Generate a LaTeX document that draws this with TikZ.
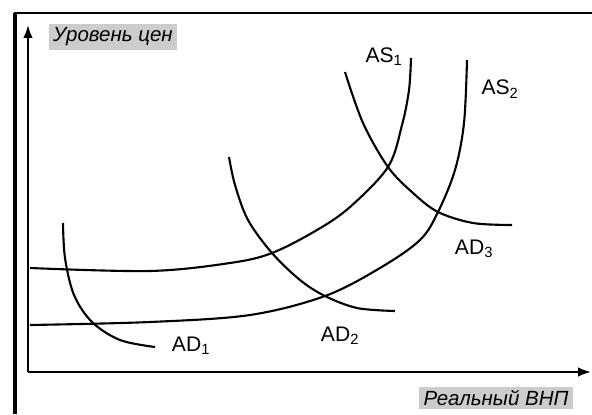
\documentclass[tikz,border=0pt]{standalone}
\usepackage{fontspec}
\setmainfont{Liberation Sans}
\usetikzlibrary{arrows.meta}

\begin{document}
\begin{tikzpicture}[x=0.03cm, y=-0.03cm,
  curve/.style={line width=1.8pt, smooth, tension=0.55},
  axis/.style={line width=1.6pt, -{Latex[length=11pt,width=8pt]}},
  lbl/.style={font=\fontsize{18}{20}\selectfont, inner sep=0pt},
  axlbl/.style={fill=gray!40, font=\fontsize{17.5}{20}\selectfont\itshape, inner xsep=4pt, inner ysep=3pt}
]
\useasboundingbox (0,0) rectangle (592,414);
\draw[line width=4pt] (15,414) -- (15,13);
\draw[line width=2.2pt] (14,13) -- (592,13);

\coordinate (o) at (28,372);
\coordinate (ytop) at (28,25);
\coordinate (xend) at (591,372);
\draw[axis] (o) -- (ytop);
\draw[axis] (o) -- (xend);

\draw[curve] plot coordinates {(30,268) (150,271) (230,263) (272,253) (317,230) (350,207) (388,167) (402,125) (409,90) (411,58)};
\draw[curve] plot coordinates {(30,325) (150,322) (250,315) (325,296) (380,268) (420,240) (438,212) (455,170) (464,123) (467,60)};
\draw[curve] plot coordinates {(63,223) (65,258) (74,295) (92,322) (120,340) (155,347)};
\draw[curve] plot coordinates {(229,157) (235,185) (248,220) (272,253) (300,280) (325,296) (357,308) (395,311)};
\draw[curve] plot coordinates {(345,72) (363,123) (388,167) (413,193) (438,212) (473,223) (512,225)};

\node[lbl] (as1) at (384,57) {AS\textsubscript{1}};
\node[lbl] (as2) at (500,89) {AS\textsubscript{2}};
\node[lbl] (ad1) at (191,346) {AD\textsubscript{1}};
\node[lbl] (ad2) at (340,336) {AD\textsubscript{2}};
\node[lbl] (ad3) at (474,249) {AD\textsubscript{3}};

\node[axlbl] (price) at (113,37) {Уровень цен};
\node[axlbl] (gnp) at (496,398) {Реальный ВНП};
\end{tikzpicture}
\end{document}
